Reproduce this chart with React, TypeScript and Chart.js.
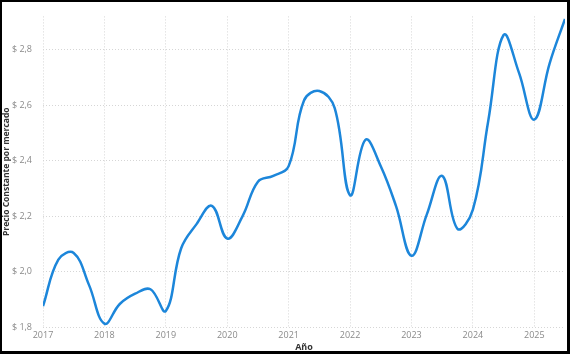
import React, { useEffect, useRef } from 'react';
import { Chart, registerables } from 'chart.js';
Chart.register(...registerables);

// Quarterly periods (year fraction) and constant price values
const periods = [
  2017.0, 2017.25, 2017.5, 2017.75,
  2018.0, 2018.25, 2018.5, 2018.75,
  2019.0, 2019.25, 2019.5, 2019.75,
  2020.0, 2020.25, 2020.5, 2020.75,
  2021.0, 2021.25, 2021.5, 2021.75,
  2022.0, 2022.25, 2022.5, 2022.75,
  2023.0, 2023.25, 2023.5, 2023.75,
  2024.0, 2024.25, 2024.5, 2024.75,
  2025.0, 2025.25, 2025.5,
];
const precio = [
  1.875, 2.043, 2.067, 1.951,
  1.812, 1.883, 1.92, 1.936,
  1.858, 2.084, 2.171, 2.237,
  2.119, 2.2, 2.324, 2.345,
  2.38, 2.617, 2.651, 2.589,
  2.275, 2.475, 2.38, 2.235,
  2.057, 2.206, 2.345, 2.154,
  2.223, 2.543, 2.853, 2.717,
  2.548, 2.751, 2.911,
];
const yearTicks = [2017, 2018, 2019, 2020, 2021, 2022, 2023, 2024, 2025];
const priceTicks = [1.8, 2.0, 2.2, 2.4, 2.6, 2.8];
const xTitle = 'Año';
const yTitle = 'Precio Constante por mercado';

export default function App() {
  const ref = useRef<HTMLCanvasElement | null>(null);
  useEffect(() => {
    document.body.style.margin = '0';
    const canvas = ref.current!;
    const grid = {
      color: '#d6d6d6',
      lineWidth: 1,
      drawTicks: false,
    };
    const border = { display: false, dash: [1, 2] };
    const chart = new Chart(canvas, {
      type: 'line',
      data: {
        datasets: [
          {
            data: periods.map((p, i) => ({ x: p, y: precio[i] })),
            borderColor: '#1C86DA',
            borderWidth: 2.5,
            pointRadius: 0,
            tension: 0.4,
            fill: false,
          },
        ],
      },
      options: {
        animation: false,
        responsive: false,
        devicePixelRatio: 1,
        layout: { padding: { left: 0, right: 9, top: 5, bottom: 0 } },
        plugins: { legend: { display: false }, tooltip: { enabled: false } },
        scales: {
          x: {
            type: 'linear',
            min: 2017,
            max: 2025.5,
            afterBuildTicks: (s: any) => {
              s.ticks = yearTicks.map((v) => ({ value: v }));
            },
            afterFit: (s: any) => {
              s.height = 30;
            },
            border,
            grid,
            ticks: {
              color: '#8a8a8a',
              padding: 3,
              maxRotation: 0,
              font: { family: 'Open Sans', size: 9 },
              callback: (v: any) => String(v),
            },
            title: {
              display: true,
              text: xTitle,
              color: '#333333',
              font: { family: 'Open Sans', size: 9, weight: 'bold' },
              padding: { top: 0, bottom: 4 },
            },
          },
          y: {
            type: 'linear',
            min: 1.8,
            max: 2.92,
            afterBuildTicks: (s: any) => {
              s.ticks = priceTicks.map((v) => ({ value: v }));
            },
            afterFit: (s: any) => {
              s.width = 43;
            },
            border,
            grid,
            ticks: {
              color: '#8a8a8a',
              padding: 11,
              font: { family: 'Open Sans', size: 9 },
              callback: (v: any) => '$ ' + Number(v).toFixed(1).replace('.', ','),
            },
            title: {
              display: true,
              text: yTitle,
              color: '#333333',
              font: { family: 'Open Sans', size: 8.5, weight: 'bold' },
              padding: { top: 1, bottom: 0 },
            },
          },
        },
      } as any,
    });
    return () => chart.destroy();
  }, []);
  return (
    <div style={{ position: 'fixed', left: 0, top: 0, width: 574, height: 357, background: '#fff' }}>
      <canvas ref={ref} width={574} height={357} style={{ position: 'absolute', left: 0, top: 0, width: 574, height: 357 }} />
      <div
        style={{
          position: 'absolute',
          left: 0,
          top: 0,
          width: 570,
          height: 354,
          boxSizing: 'border-box',
          borderTop: '2px solid #000',
          borderLeft: '2px solid #000',
          borderRight: '3px solid #000',
          borderBottom: '3px solid #000',
          pointerEvents: 'none',
        }}
      />
    </div>
  );
}
